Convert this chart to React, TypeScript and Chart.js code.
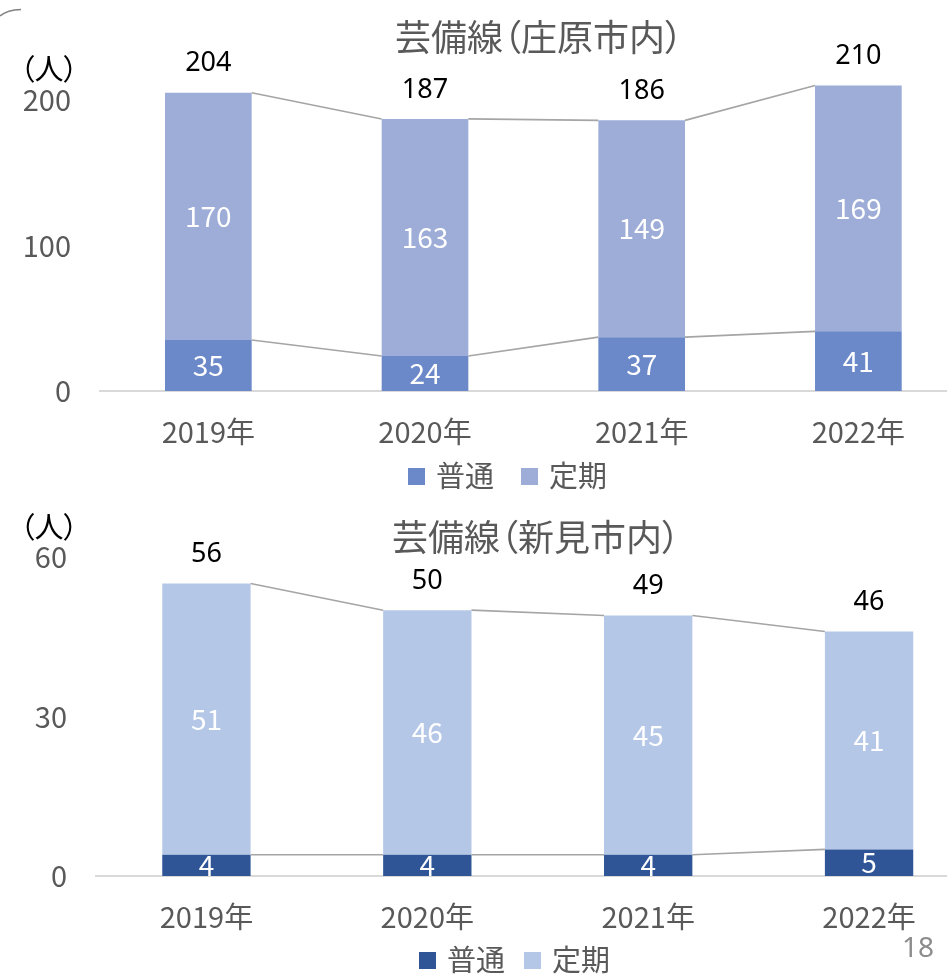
import React, { useEffect, useRef } from 'react';
import { Chart, registerables } from 'chart.js';

Chart.register(...registerables);

// ---- data ----
const years = ['2019年', '2020年', '2021年', '2022年'];

const shobaraRegular = [35, 24, 37, 41];
const shobaraCommuter = [170, 163, 149, 169];
const shobaraTotals = [204, 187, 186, 210];
const shobaraTicks = [0, 100, 200];

const niimiRegular = [4, 4, 4, 5];
const niimiCommuter = [51, 46, 45, 41];
const niimiTotals = [56, 50, 49, 46];
const niimiTicks = [0, 30, 60];

const seriesNames = ['普通', '定期'];

const JP = '"Noto Sans CJK JP", "Noto Sans CJK SC", sans-serif';

const barLabelPlugin = {
  id: 'barLabels',
  afterDatasetsDraw(chart: any, _args: any, opts: any) {
    const { ctx } = chart;
    const metas = [chart.getDatasetMeta(0), chart.getDatasetMeta(1)];
    ctx.save();
    ctx.strokeStyle = '#A5A5A5';
    ctx.lineWidth = 1.6;
    metas.forEach((meta: any) => {
      for (let i = 0; i < meta.data.length - 1; i++) {
        const a = meta.data[i];
        const b = meta.data[i + 1];
        ctx.beginPath();
        ctx.moveTo(a.x + a.width / 2, a.y);
        ctx.lineTo(b.x - b.width / 2, b.y);
        ctx.stroke();
      }
    });
    ctx.textAlign = 'center';
    ctx.textBaseline = 'middle';
    ctx.fillStyle = '#FFFFFF';
    ctx.font = `28px ${JP}`;
    metas.forEach((meta: any, di: number) => {
      meta.data.forEach((el: any, i: number) => {
        const v = chart.data.datasets[di].data[i];
        ctx.fillText(String(v), el.x, (el.y + el.base) / 2);
      });
    });
    ctx.fillStyle = '#000000';
    ctx.font = `27px "Noto Sans", ${JP}`;
    metas[1].data.forEach((el: any, i: number) => {
      ctx.fillText(String(opts.totals[i]), el.x, el.y - opts.offset);
    });
    ctx.restore();
  },
};

type Cfg = {
  top: number;
  canvasW: number;
  canvasH: number;
  padTop: number;
  padRight: number;
  yWidth: number;
  xHeight: number;
  max: number;
  ticks: number[];
  regular: number[];
  commuter: number[];
  totals: number[];
  colors: [string, string];
};

function buildConfig(c: Cfg): any {
  return {
    type: 'bar',
    data: {
      labels: years,
      datasets: [
        {
          label: seriesNames[0],
          data: c.regular,
          backgroundColor: c.colors[0],
          stack: 's',
          barPercentage: 0.4,
          categoryPercentage: 1,
        },
        {
          label: seriesNames[1],
          data: c.commuter,
          backgroundColor: c.colors[1],
          stack: 's',
          barPercentage: 0.4,
          categoryPercentage: 1,
        },
      ],
    },
    options: {
      animation: false,
      responsive: false,
      devicePixelRatio: 1,
      layout: { padding: { top: c.padTop, right: c.padRight, left: 0, bottom: 0 } },
      plugins: {
        legend: { display: false },
        title: { display: false },
        tooltip: { enabled: false },
        barLabels: { totals: c.totals, offset: 29 },
      },
      scales: {
        x: {
          stacked: true,
          grid: { display: false, drawTicks: false },
          border: { display: true, color: '#D9D9D9', width: 2 },
          ticks: { color: '#595959', font: { family: JP, size: 29 }, padding: 24, maxRotation: 0 },
          afterFit: (s: any) => {
            s.height = c.xHeight;
          },
        },
        y: {
          stacked: true,
          min: 0,
          max: c.max,
          grid: { display: false, drawTicks: false },
          border: { display: false },
          ticks: { color: '#595959', font: { family: JP, size: 29 }, padding: 29 },
          afterBuildTicks: (s: any) => {
            s.ticks = c.ticks.map((v) => ({ value: v }));
          },
          afterFit: (s: any) => {
            s.width = c.yWidth;
            s.paddingTop = 0;
            s.paddingBottom = 0;
          },
        },
      },
    },
    plugins: [barLabelPlugin],
  };
}

function BarChart({ cfg }: { cfg: Cfg }) {
  const ref = useRef<HTMLCanvasElement>(null);
  useEffect(() => {
    const chart = new Chart(ref.current as HTMLCanvasElement, buildConfig(cfg));
    return () => chart.destroy();
  }, []);
  return (
    <canvas
      ref={ref}
      width={cfg.canvasW}
      height={cfg.canvasH}
      style={{ position: 'absolute', left: 0, top: cfg.top, width: cfg.canvasW, height: cfg.canvasH }}
    />
  );
}

const topCfg: Cfg = {
  top: 0,
  canvasW: 1020,
  canvasH: 460,
  padTop: 27.25,
  padRight: 1020 - 966.7,
  yWidth: 100,
  xHeight: 69,
  max: 250,
  ticks: shobaraTicks,
  regular: shobaraRegular,
  commuter: shobaraCommuter,
  totals: shobaraTotals,
  colors: ['#6B88C9', '#9DADD8'],
};

const bottomCfg: Cfg = {
  top: 500,
  canvasW: 1040,
  canvasH: 445,
  padTop: 57,
  padRight: 1040 - 979.5,
  yWidth: 96,
  xHeight: 69,
  max: 60,
  ticks: niimiTicks,
  regular: niimiRegular,
  commuter: niimiCommuter,
  totals: niimiTotals,
  colors: ['#2F5597', '#B4C7E7'],
};

function Text({ x, cy, size, color, children, center, family }: any) {
  const style: React.CSSProperties = {
    position: 'absolute',
    top: cy - size * 0.556,
    fontSize: size,
    lineHeight: `${size}px`,
    color,
    fontFamily: family || JP,
    fontFeatureSettings: '"palt"',
    whiteSpace: 'nowrap',
  };
  if (center) {
    style.left = x - 300;
    style.width = 600;
    style.textAlign = 'center';
  } else {
    style.left = x;
  }
  return <div style={style}>{children}</div>;
}

function Legend({ cy, x1, x2, colors }: { cy: number; x1: number; x2: number; colors: [string, string] }) {
  const sq = 17;
  return (
    <>
      <div style={{ position: 'absolute', left: x1, top: cy - sq / 2, width: sq, height: sq, background: colors[0] }} />
      <Text x={x1 + 28} cy={cy} size={29} color="#595959">{seriesNames[0]}</Text>
      <div style={{ position: 'absolute', left: x2, top: cy - sq / 2, width: sq, height: sq, background: colors[1] }} />
      <Text x={x2 + 28} cy={cy} size={29} color="#595959">{seriesNames[1]}</Text>
    </>
  );
}

export default function App() {
  return (
    <div
      style={{
        position: 'fixed',
        left: 0,
        top: 0,
        width: 947,
        height: 975,
        overflow: 'hidden',
        background: '#FFFFFF',
      }}
    >
      <svg width={40} height={30} style={{ position: 'absolute', left: 0, top: 0 }}>
        <path d="M0,16 Q7,10 21,9.5" stroke="#7F7F7F" strokeWidth={1.5} fill="none" />
      </svg>
      <BarChart cfg={topCfg} />
      <BarChart cfg={bottomCfg} />
      <Text x={539} cy={37} size={36} color="#595959" center>芸備線（庄原市内）</Text>
      <Text x={20} cy={69} size={29} color="#000000">（人）</Text>
      <Legend cy={476} x1={408} x2={521} colors={topCfg.colors} />
      <Text x={536} cy={537} size={36} color="#595959" center>芸備線（新見市内）</Text>
      <Text x={20} cy={527} size={29} color="#000000">（人）</Text>
      <Legend cy={960} x1={419} x2={524} colors={bottomCfg.colors} />
      <Text x={902} cy={948} size={28} color="#8C8C8C" family='"Noto Sans", sans-serif'>18</Text>
    </div>
  );
}
